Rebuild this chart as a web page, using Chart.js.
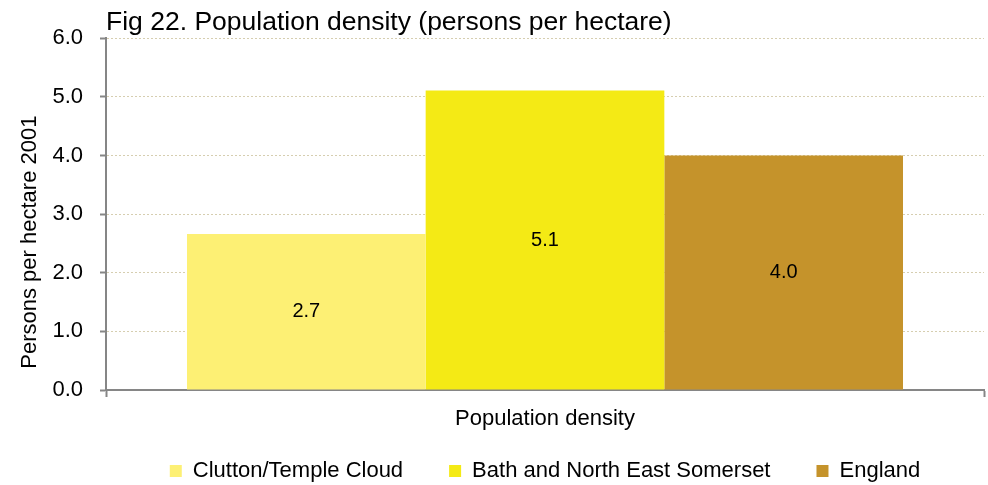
<!DOCTYPE html>
<html><head><meta charset="utf-8">
<script src="https://cdn.jsdelivr.net/npm/chart.js@4.4.1/dist/chart.umd.min.js"></script>
<style>html,body{margin:0;padding:0;background:#fff;}canvas{display:block;}</style>
</head><body>
<canvas id="c" width="988" height="485"></canvas>
<script>
const categories = ['Population density'];
const seriesNames = ['Clutton/Temple Cloud', 'Bath and North East Somerset', 'England'];
const cluttonValues = [2.66];
const bathValues = [5.11];
const englandValues = [4.0];
const yTickValues = [0, 1, 2, 3, 4, 5, 6];
const seriesColors = ['#FDF074', '#F4EA15', '#C5932B'];

const FONT = '"Liberation Sans", Arial, sans-serif';
Chart.defaults.font.family = FONT;
Chart.defaults.color = '#000';

const X_AXIS_H = 44;
const PLOT_BOTTOM = 390;
const LEGEND_ITEM_TOP = 460;
const Y_TITLE_SHIFT = 28;

const layoutFix = {
  id: 'layoutFix',
  beforeLayout(chart) {
    const lg = chart.legend;
    if (lg && !lg._fixed) {
      const f = lg.fit.bind(lg);
      lg.fit = function () { f(); this.height = chart.height - PLOT_BOTTOM - X_AXIS_H; };
      lg._fixed = true;
    }
  },
  afterLayout(chart) {
    const lg = chart.legend;
    if (lg) {
      lg.top = LEGEND_ITEM_TOP - lg.options.labels.padding;
      lg.bottom = chart.height;
      lg.height = lg.bottom - lg.top;
    }
    const y = chart.scales.y;
    if (y && !y._titleFixed) {
      const orig = y.drawTitle.bind(y);
      y.drawTitle = function () {
        const t = this.top, b = this.bottom;
        this.top = t + Y_TITLE_SHIFT; this.bottom = b + Y_TITLE_SHIFT;
        orig();
        this.top = t; this.bottom = b;
      };
      y._titleFixed = true;
    }
  }
};

const barLabels = {
  id: 'barLabels',
  afterDatasetsDraw(chart) {
    const ctx = chart.ctx;
    ctx.save();
    ctx.font = '20px ' + FONT;
    ctx.fillStyle = '#000';
    ctx.textAlign = 'center';
    ctx.textBaseline = 'middle';
    chart.data.datasets.forEach((ds, i) => {
      chart.getDatasetMeta(i).data.forEach((bar, j) => {
        ctx.fillText(ds.data[j].toFixed(1), bar.x, (bar.y + bar.base) / 2);
      });
    });
    ctx.restore();
  }
};

const allSeries = [cluttonValues, bathValues, englandValues];

new Chart(document.getElementById('c'), {
  type: 'bar',
  data: {
    labels: categories,
    datasets: allSeries.map((vals, i) => ({
      label: seriesNames[i],
      data: vals,
      backgroundColor: seriesColors[i],
      borderWidth: 0,
      categoryPercentage: 0.8155,
      barPercentage: 1
    }))
  },
  options: {
    responsive: false,
    maintainAspectRatio: false,
    animation: false,
    events: [],
    layout: { padding: { left: 0, right: 4, top: 0, bottom: 0 } },
    plugins: {
      title: {
        display: true,
        text: 'Fig 22. Population density (persons per hectare)',
        align: 'start',
        fullSize: false,
        color: '#000',
        font: { size: 26.5, weight: 'normal', lineHeight: 1.2 },
        padding: { top: 6.5, bottom: 0 }
      },
      legend: {
        display: true,
        position: 'bottom',
        fullSize: false,
        labels: {
          boxWidth: 12,
          boxHeight: 12,
          padding: 46,
          color: '#000',
          font: { size: 22 }
        }
      },
      tooltip: { enabled: false }
    },
    scales: {
      x: {
        afterFit(s) { s.height = X_AXIS_H; },
        grid: {
          display: true,
          drawOnChartArea: false,
          drawTicks: true,
          tickLength: 7,
          tickColor: '#868686',
          tickWidth: 2
        },
        border: { display: true, color: '#868686', width: 2 },
        ticks: { padding: 9, font: { size: 22 }, color: '#000' }
      },
      y: {
        min: yTickValues[0],
        max: yTickValues[yTickValues.length - 1],
        afterFit(s) { s.width = 106; },
        afterBuildTicks(s) { s.ticks = yTickValues.map(v => ({ value: v })); },
        ticks: {
          padding: 17,
          font: { size: 22 },
          color: '#000',
          callback: v => Number(v).toFixed(1)
        },
        grid: {
          color: c => (c.tick && c.tick.value === 0) ? 'rgba(0,0,0,0)' : '#d6ceb0',
          lineWidth: 1,
          tickLength: 6,
          tickColor: '#868686',
          tickWidth: 2
        },
        border: { display: true, color: '#868686', width: 2, dash: [2, 2] },
        title: {
          display: true,
          text: 'Persons per hectare 2001',
          color: '#000',
          font: { size: 22, lineHeight: 1.2 },
          padding: { top: 17, bottom: 0 }
        }
      }
    }
  },
  plugins: [layoutFix, barLabels]
});
</script>
</body></html>
